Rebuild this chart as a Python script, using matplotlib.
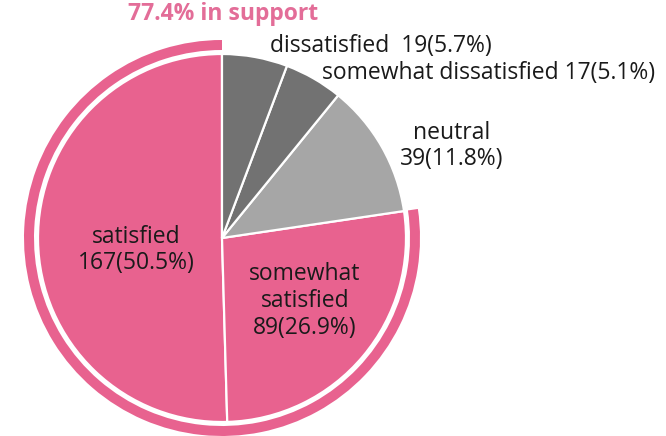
import matplotlib
matplotlib.use("Agg")
import matplotlib.pyplot as plt
from matplotlib.patches import Wedge

categories = ["satisfied", "somewhat satisfied", "neutral", "somewhat dissatisfied", "dissatisfied"]
counts = [167, 89, 39, 17, 19]
colors = ["#E8628F", "#E8628F", "#A6A6A6", "#727272", "#727272"]
title = "77.4% in support"

total = sum(counts)
pcts = [c / total * 100 for c in counts]

W, H = 666, 436
cx, cy = 222, 238
R = 184

fig = plt.figure(figsize=(W / 100, H / 100), dpi=100)
ax = fig.add_axes([0, 0, 1, 1])
ax.pie(counts, colors=colors, startangle=90, counterclock=True, radius=R,
       center=(0, 0), wedgeprops=dict(edgecolor="white", linewidth=1.6))

# support ring around satisfied + somewhat satisfied
supp = pcts[0] + pcts[1]
ax.add_patch(Wedge((0, 0), R + 14, 90, 90 + 360 * supp / 100,
                   width=10, facecolor="#E8628F", edgecolor="none"))

ax.set_xlim(-cx, W - cx)
ax.set_ylim(-(H - cy), cy)
ax.set_aspect("equal")
ax.axis("off")

def P(x, y):
    return (x - cx, cy - y)

fs = 16.5
family = ["Open Sans", "DejaVu Sans"]
lab = [f"{c}({p:.1f}%)" for c, p in zip(counts, pcts)]

ax.text(*P(270, 46), f"{categories[4]}  {lab[4]}", fontsize=fs, family=family,
        ha="left", va="center", color="#1a1a1a")
ax.text(*P(322, 73), f"{categories[3]} {lab[3]}", fontsize=fs, family=family,
        ha="left", va="center", color="#1a1a1a")
ax.text(*P(452, 146), f"{categories[2]}\n{lab[2]}", fontsize=fs, family=family,
        ha="center", va="center", color="#1a1a1a", linespacing=1.15)
ax.text(*P(136, 250), f"{categories[0]}\n{lab[0]}", fontsize=fs, family=family,
        ha="center", va="center", color="#1a1a1a", linespacing=1.15)
ax.text(*P(305, 301), "somewhat\nsatisfied\n" + lab[1], fontsize=fs, family=family,
        ha="center", va="center", color="#1a1a1a", linespacing=1.15)

ax.text(*P(223, 14), title, fontsize=16.5, family=family, fontweight="bold",
        ha="center", va="center", color="#E36D98")

fig.savefig("out.png", dpi=100)
